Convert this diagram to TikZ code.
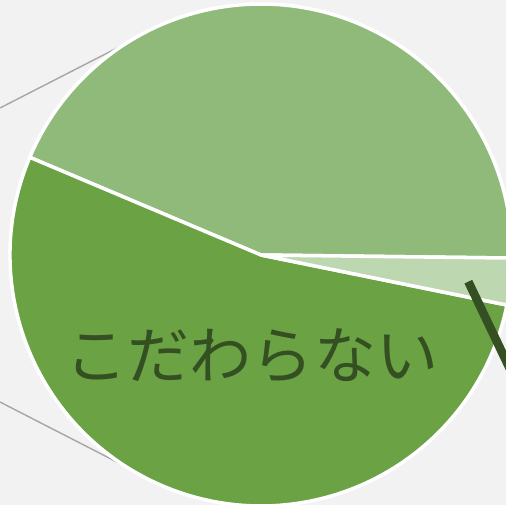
\documentclass[tikz,border=0pt]{standalone}
\usepackage{fontspec}
\usepackage{tikz}
\usetikzlibrary{calc}
\newfontfamily\jpfont{Noto Sans CJK JP}

\definecolor{bgGray}{HTML}{F2F2F2}
\definecolor{sliceTop}{HTML}{8FBA7A}
\definecolor{sliceMain}{HTML}{6AA244}
\definecolor{sliceSmall}{HTML}{BDD7B1}
\definecolor{darkGreen}{HTML}{344F22}
\definecolor{leadGray}{HTML}{A6A6A6}

\tikzset{
  slice/.style={draw=white,line width=3pt,line join=round},
  leader/.style={leadGray,line width=1.2pt},
}

\begin{document}
\begin{tikzpicture}
    \fill[bgGray] (-7.83,-7.5) rectangle (7.35,7.65);
    \useasboundingbox (-7.83,-7.5) rectangle (7.35,7.65);
    \def\r{7.53}

    % lines to the bar
    \coordinate (upL) at (-7.83,4.41);
    \coordinate (loL) at (-7.83,-4.41);
    \coordinate (upP) at (122.6:\r);
    \coordinate (loP) at (237.6:\r);
    \draw[leader] (upL) -- (upP);
    \draw[leader] (loL) -- (loP);

    \begin{scope}
      \clip (-7.83,-7.5) rectangle (7.35,7.65);
      \draw[slice,fill=sliceTop] (0,0) -- (-0.7:\r) arc (-0.7:157.1:\r) -- cycle;
      \draw[slice,fill=sliceMain] (0,0) -- (157.1:\r) arc (157.1:348.5:\r) -- cycle;
      \draw[slice,fill=sliceSmall] (0,0) -- (348.5:\r) arc (348.5:359.3:\r) -- cycle;

      \coordinate (tagA) at (6.22,-0.80);
      \coordinate (tagB) at (7.77,-4.05);
      \draw[darkGreen,line width=7.3pt] (tagA) -- (tagB);
    \end{scope}

    \node[darkGreen,font=\jpfont\fontsize{53}{53}\selectfont,inner sep=0pt] (label) at (-0.27,-3.03) {こだわらない};
  \end{tikzpicture}
\end{document}
